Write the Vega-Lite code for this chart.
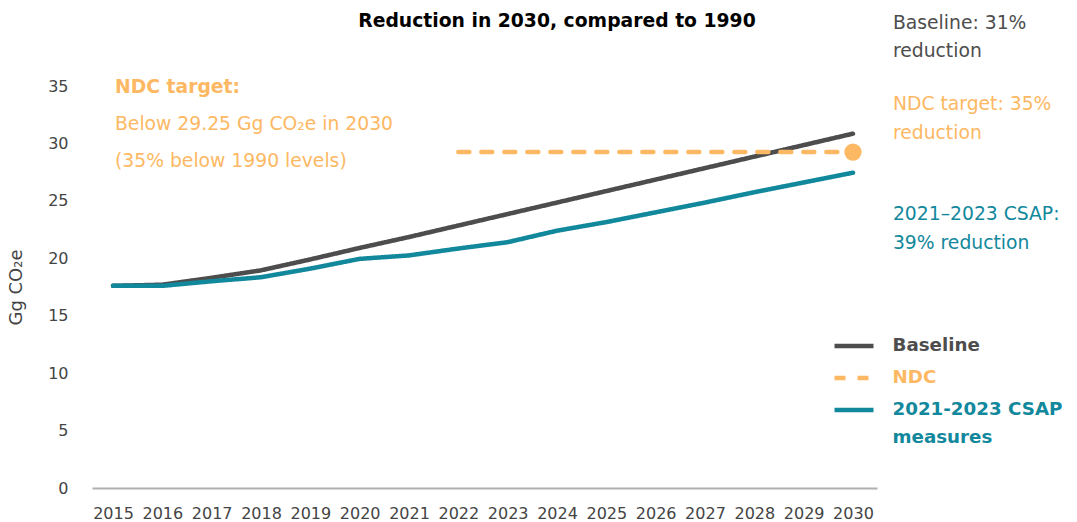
{
  "$schema": "https://vega.github.io/schema/vega-lite/v6.json",
  "width": 785,
  "height": 402,
  "autosize": {"type": "none"},
  "padding": {"left": 92, "top": 86, "right": 200, "bottom": 34},
  "background": "white",
  "config": {"view": {"stroke": null}, "font": "DejaVu Sans", "style": {"guide-label": {"lineHeight": 28}}},
  "datasets": {
    "emissions": [
      {"year": 2015, "value": 17.6, "series": "Baseline"},
      {"year": 2016, "value": 17.7, "series": "Baseline"},
      {"year": 2017, "value": 18.3, "series": "Baseline"},
      {"year": 2018, "value": 18.95, "series": "Baseline"},
      {"year": 2019, "value": 19.9, "series": "Baseline"},
      {"year": 2020, "value": 20.9, "series": "Baseline"},
      {"year": 2021, "value": 21.85, "series": "Baseline"},
      {"year": 2022, "value": 22.85, "series": "Baseline"},
      {"year": 2023, "value": 23.85, "series": "Baseline"},
      {"year": 2024, "value": 24.85, "series": "Baseline"},
      {"year": 2025, "value": 25.85, "series": "Baseline"},
      {"year": 2026, "value": 26.85, "series": "Baseline"},
      {"year": 2027, "value": 27.85, "series": "Baseline"},
      {"year": 2028, "value": 28.85, "series": "Baseline"},
      {"year": 2029, "value": 29.85, "series": "Baseline"},
      {"year": 2030, "value": 30.85, "series": "Baseline"},
      {"year": 2022, "value": 29.25, "series": "NDC"},
      {"year": 2030, "value": 29.25, "series": "NDC"},
      {"year": 2015, "value": 17.6, "series": "2021-2023 CSAP measures"},
      {"year": 2016, "value": 17.6, "series": "2021-2023 CSAP measures"},
      {"year": 2017, "value": 18.0, "series": "2021-2023 CSAP measures"},
      {"year": 2018, "value": 18.35, "series": "2021-2023 CSAP measures"},
      {"year": 2019, "value": 19.1, "series": "2021-2023 CSAP measures"},
      {"year": 2020, "value": 19.95, "series": "2021-2023 CSAP measures"},
      {"year": 2021, "value": 20.25, "series": "2021-2023 CSAP measures"},
      {"year": 2022, "value": 20.85, "series": "2021-2023 CSAP measures"},
      {"year": 2023, "value": 21.4, "series": "2021-2023 CSAP measures"},
      {"year": 2024, "value": 22.4, "series": "2021-2023 CSAP measures"},
      {"year": 2025, "value": 23.15, "series": "2021-2023 CSAP measures"},
      {"year": 2026, "value": 24.0, "series": "2021-2023 CSAP measures"},
      {"year": 2027, "value": 24.85, "series": "2021-2023 CSAP measures"},
      {"year": 2028, "value": 25.75, "series": "2021-2023 CSAP measures"},
      {"year": 2029, "value": 26.6, "series": "2021-2023 CSAP measures"},
      {"year": 2030, "value": 27.45, "series": "2021-2023 CSAP measures"}
    ]
  },
  "layer": [
    {
      "data": {"name": "emissions"},
      "mark": {"type": "line", "strokeWidth": 4.5, "strokeCap": "round", "strokeJoin": "round"},
      "encoding": {
        "x": {"field": "year", "type": "quantitative", "scale": {"domain": [2014.574, 2030.487], "nice": false, "zero": false},
              "axis": {"values": [2015,2016,2017,2018,2019,2020,2021,2022,2023,2024,2025,2026,2027,2028,2029,2030], "format": "d", "title": null, "grid": false, "ticks": false, "domainColor": "#b0b0b0", "domainWidth": 2, "labelFontSize": 16, "labelColor": "#444444", "labelPadding": 17, "labelFont": "DejaVu Sans"}},
        "y": {"field": "value", "type": "quantitative", "scale": {"domain": [0, 35], "nice": false},
              "axis": {"values": [0,5,10,15,20,25,30,35], "title": "Gg CO₂e", "grid": false, "ticks": false, "domain": false, "labelFontSize": 16, "labelColor": "#444444", "labelPadding": 24, "labelFont": "DejaVu Sans", "titleFont": "DejaVu Sans", "titleFontSize": 18, "titleFontWeight": "normal", "titleColor": "#444444", "titlePadding": 22}},
        "color": {"field": "series", "type": "nominal",
                  "scale": {"domain": ["Baseline", "NDC", "2021-2023 CSAP measures"], "range": ["#4d4d4d", "#fdb863", "#12889d"]},
                  "legend": {"orient": "none", "legendX": 740, "legendY": 238, "title": null, "symbolType": "stroke", "symbolSize": 1521, "symbolStrokeWidth": 4.5, "labelFontSize": 18.25, "labelFontWeight": "bold", "labelFont": "DejaVu Sans", "labelOffset": 16.5, "rowPadding": 1, "labelLimit": 300,
                             "labelColor": {"expr": "datum.value === 'NDC' ? '#fdb863' : datum.value === 'Baseline' ? '#4d4d4d' : '#12889d'"},
                             "labelExpr": "datum.value === '2021-2023 CSAP measures' ? ['2021-2023 CSAP', 'measures'] : datum.label"}},
        "strokeDash": {"field": "series", "type": "nominal",
                       "scale": {"domain": ["Baseline", "NDC", "2021-2023 CSAP measures"], "range": [[1, 0], [11, 12], [1, 0]]},
                       "legend": null}
      }
    },
    {
      "data": {"name": "emissions"},
      "transform": [{"filter": "datum.series === 'NDC' && datum.year === 2030"}],
      "mark": {"type": "circle", "size": 300, "opacity": 1, "color": "#fdb863"},
      "encoding": {"x": {"field": "year", "type": "quantitative"}, "y": {"field": "value", "type": "quantitative"}}
    },
    {
      "data": {"values": [{}]},
      "mark": {"type": "text", "text": "Reduction in 2030, compared to 1990", "align": "center", "baseline": "alphabetic", "fontSize": 18.75, "fontWeight": "bold", "color": "#000000", "font": "DejaVu Sans"},
      "encoding": {"x": {"datum": 2024.0, "type": "quantitative"}, "y": {"datum": 40.14, "type": "quantitative"}}
    },
    {
      "data": {"values": [{}]},
      "mark": {"type": "text", "text": "NDC target:", "align": "left", "baseline": "alphabetic", "fontSize": 18.75, "fontWeight": "bold", "color": "#fdb863", "font": "DejaVu Sans"},
      "encoding": {"x": {"datum": 2015.04, "type": "quantitative"}, "y": {"datum": 34.43, "type": "quantitative"}}
    },
    {
      "data": {"values": [{}]},
      "mark": {"type": "text", "text": ["Below 29.25 Gg CO₂e in 2030", "(35% below 1990 levels)"], "lineHeight": 37, "align": "left", "baseline": "alphabetic", "fontSize": 18.75, "color": "#fdb863", "font": "DejaVu Sans"},
      "encoding": {"x": {"datum": 2015.04, "type": "quantitative"}, "y": {"datum": 31.21, "type": "quantitative"}}
    },
    {
      "data": {"values": [{}]},
      "mark": {"type": "text", "text": ["Baseline: 31%", "reduction"], "lineHeight": 28.5, "align": "left", "baseline": "alphabetic", "fontSize": 18.75, "color": "#4d4d4d", "font": "DejaVu Sans"},
      "encoding": {"x": {"datum": 2030.81, "type": "quantitative"}, "y": {"datum": 40.0, "type": "quantitative"}}
    },
    {
      "data": {"values": [{}]},
      "mark": {"type": "text", "text": ["NDC target: 35%", "reduction"], "lineHeight": 28.5, "align": "left", "baseline": "alphabetic", "fontSize": 18.75, "color": "#fdb863", "font": "DejaVu Sans"},
      "encoding": {"x": {"datum": 2030.81, "type": "quantitative"}, "y": {"datum": 32.87, "type": "quantitative"}}
    },
    {
      "data": {"values": [{}]},
      "mark": {"type": "text", "text": ["2021–2023 CSAP:", "39% reduction"], "lineHeight": 28.5, "align": "left", "baseline": "alphabetic", "fontSize": 18.75, "color": "#12889d", "font": "DejaVu Sans"},
      "encoding": {"x": {"datum": 2030.81, "type": "quantitative"}, "y": {"datum": 23.29, "type": "quantitative"}}
    }
  ]
}
